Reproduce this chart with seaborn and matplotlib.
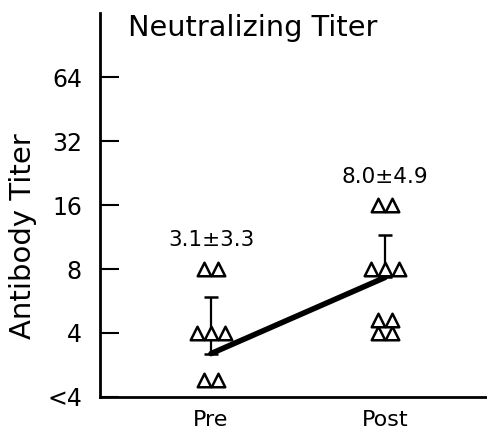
import numpy as np
import pandas as pd
import matplotlib
matplotlib.use("Agg")
import matplotlib.pyplot as plt
import seaborn as sns

sns.set_style("ticks")
plt.rcParams['font.family'] = ['DejaVu Sans']
plt.rcParams.update({"text.color": "black", "axes.labelcolor": "black",
                     "xtick.color": "black", "ytick.color": "black"})

# ---- data ("<4" plotted as 2) ----
groups = ["Pre", "Post"]
pre_values = [8, 8, 4, 4, 4, 2.4, 2.4]
post_values = [16, 16, 8, 8, 8, 4.6, 4.6, 4, 4]
mean_drawn = [3.2, 7.3]
upper_err_drawn = [5.9, 11.6]
mean_labels = ["3.1\u00b13.3", "8.0\u00b14.9"]
ytick_values = [2, 4, 8, 16, 32, 64]
ytick_labels = ["<4", "4", "8", "16", "32", "64"]

# ---- build long table with side-by-side offsets for tied values ----
rows = []
for gi, (g, vals) in enumerate(zip(groups, [pre_values, post_values])):
    vals = np.array(vals, dtype=float)
    for v in np.unique(vals):
        n = int((vals == v).sum())
        offs = (np.arange(n) - (n - 1) / 2) * 0.08
        for o in offs:
            rows.append({"group": g, "x": gi + o, "titer": v})
df = pd.DataFrame(rows)
means = pd.DataFrame({"x": [0, 1], "titer": mean_drawn})

fig = plt.figure(figsize=(4.87, 4.38), dpi=100)
ax = fig.add_axes([100 / 487, 41 / 438, 387 / 487, 384 / 438])

# mean line
sns.lineplot(data=means, x="x", y="titer", ax=ax, color="black", linewidth=4,
             zorder=2, legend=False)
# upper error bars
ax.errorbar(means["x"], means["titer"],
            yerr=[np.zeros(2), np.array(upper_err_drawn) - np.array(mean_drawn)],
            fmt="none", ecolor="black", elinewidth=1.6, capsize=5, capthick=1.8, zorder=3)
# individual titers
sns.scatterplot(data=df, x="x", y="titer", ax=ax, marker="^", s=95,
                facecolor="white", edgecolor="black", linewidth=1.8, zorder=4, legend=False)

ax.set_yscale("log", base=2)
ax.set_ylim(2, 128)
ax.set_xlim(-0.638, 1.586)
ax.set_yticks(ytick_values)
ax.set_yticklabels(ytick_labels)
ax.minorticks_off()
ax.set_xticks([0, 1])
ax.set_xticklabels(groups)
ax.tick_params(axis="x", length=0, pad=9, labelsize=16)
ax.tick_params(axis="y", direction="in", length=14, width=1.5, pad=13, labelsize=17)
ax.set_xlabel("")
ax.set_ylabel("Antibody Titer", fontsize=21)
ax.yaxis.set_label_coords(-63 / 387, (397 - 236) / 384)
for s in ["top", "right"]:
    ax.spines[s].set_visible(False)
for s in ["left", "bottom"]:
    ax.spines[s].set_linewidth(2)
    ax.spines[s].set_color("black")

for xi, top, lab in zip(means["x"], upper_err_drawn, mean_labels):
    ax.text(xi, top * 2 ** 0.9, lab, ha="center", va="center", fontsize=15.5)

fig.text(128 / 487, 1 - 28 / 438, "Neutralizing Titer", ha="left", va="center", fontsize=20.7)

fig.savefig("out.png", dpi=100)
